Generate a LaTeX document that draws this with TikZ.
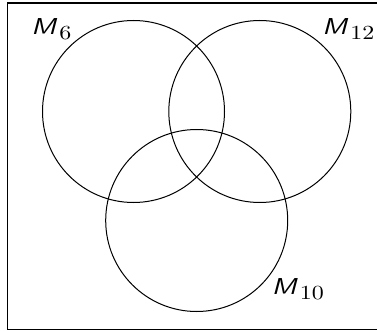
\documentclass[tikz,border=0pt]{standalone}
\usepackage{graphicx}
\newcommand{\vlabel}[1]{\scalebox{2.85}[2.3]{\textsf{\textit{M}}}\kern2pt\raisebox{-5pt}{\scalebox{2.4}[2.0]{#1}}}
\begin{document}
\begin{tikzpicture}[x=1pt,y=1pt,
  setc/.style={line width=1pt},
  frame/.style={line width=1.3pt},
  lab/.style={anchor=base west,inner sep=0pt}]
\useasboundingbox (0,0) rectangle (377,-331);
\draw[frame] (380,-3) -- (7.5,-3) -- (7.5,-329.3) -- (380,-329.3);
\draw[setc] (133.5,-111.5) circle (91);
\draw[setc] (259.8,-111.5) circle (91);
\draw[setc] (196.7,-220.5) circle (91);
\node[lab] (m6) at (31,-34.7) {\vlabel{6}};
\node[lab] (m12) at (322,-34.5) {\vlabel{12}};
\node[lab] (m10) at (271.5,-294.7) {\vlabel{10}};
\end{tikzpicture}
\end{document}
